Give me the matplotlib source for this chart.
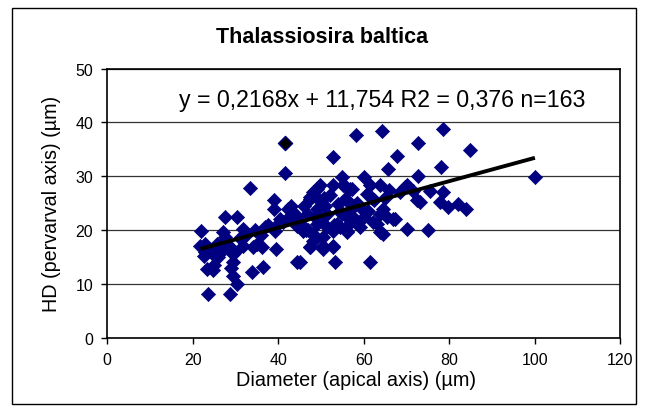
import matplotlib
matplotlib.use("Agg")
import matplotlib.pyplot as plt
from matplotlib.patches import Rectangle

plt.rcParams['font.family'] = ['Liberation Sans', 'DejaVu Sans']

# apical diameter (um) and pervalvar axis (um)
diameter = [
    22.0, 21.8, 22.6, 23.3, 24.8, 23.6, 24.2, 25.6, 24.5, 27.2,
    27.6, 27.6, 30.4, 27.2, 28.7, 29.5, 29.5, 29.5, 30.3, 28.7,
    31.8, 31.8, 33.3, 34.2, 33.8, 36.1, 36.5, 35.0, 38.9, 38.9,
    39.6, 39.3, 39.6, 41.2, 41.7, 42.4, 43.5, 44.3, 44.3, 26.0,
    22.8, 25.0, 28.0, 30.0, 45.1, 47.4, 52.9, 53.3, 61.4, 49.8,
    48.2, 47.4, 49.4, 52.9, 55.2, 56.8, 61.4, 63.8, 70.0, 56.0,
    60.7, 72.4, 58.2, 64.3, 52.9, 67.7, 72.6, 65.7, 54.8, 60.1,
    72.7, 70.0, 64.6, 63.0, 65.4, 67.3, 63.8, 45.9, 48.2, 50.5,
    52.9, 56.0, 57.5, 56.0, 53.7, 49.0, 51.3, 46.7, 54.4, 50.5,
    48.2, 43.5, 45.1, 47.4, 49.0, 58.0, 56.0, 56.0, 64.6, 66.9,
    62.2, 63.8, 47.4, 50.5, 52.9, 55.6, 69.6, 71.6, 73.1, 55.8,
    57.2, 78.4, 84.8, 78.0, 75.5, 78.4, 77.8, 79.8, 82.1, 83.9,
    75.1, 100.0, 51.0, 54.0, 50.0, 46.0, 58.5, 59.5, 61.0, 62.5,
    48.5, 51.5, 53.0, 55.0, 57.0, 44.5, 46.5, 40.5, 37.5, 26.5,
    23.0, 66.0, 68.5, 60.0, 59.0, 65.0, 49.0, 52.0, 54.5, 57.8,
    42.0, 43.0, 32.5, 34.5, 37.0, 25.5, 29.0, 31.0, 47.0, 50.8,
    53.8, 36.0, 62.0,
]
hd = [
    19.8, 17.0, 15.2, 12.8, 12.5, 8.1, 16.3, 17.5, 15.8, 19.6,
    18.7, 22.4, 22.4, 16.3, 16.8, 15.6, 14.0, 11.5, 10.0, 8.1,
    20.2, 17.1, 27.9, 16.8, 12.2, 16.8, 13.1, 17.4, 25.6, 23.9,
    20.8, 19.9, 16.5, 21.5, 30.6, 23.9, 22.1, 20.8, 14.0, 15.0,
    16.0, 13.5, 17.5, 16.0, 14.0, 16.8, 16.8, 14.0, 14.0, 28.3,
    27.0, 26.1, 25.8, 28.3, 28.3, 27.6, 28.3, 28.3, 28.3, 25.5,
    26.7, 25.5, 37.7, 38.5, 33.5, 33.7, 36.2, 31.4, 29.9, 29.9,
    30.1, 20.2, 19.3, 21.2, 22.4, 22.1, 23.0, 19.9, 19.3, 18.7,
    19.9, 19.9, 21.8, 22.4, 21.2, 21.2, 23.0, 23.0, 23.6, 16.5,
    18.0, 23.3, 21.4, 25.8, 27.7, 22.1, 20.8, 19.6, 23.9, 22.1,
    21.5, 19.6, 16.8, 17.1, 17.1, 25.8, 28.0, 27.3, 25.2, 28.0,
    27.7, 38.8, 34.8, 31.7, 27.3, 27.0, 25.2, 24.3, 24.9, 23.9,
    20.1, 29.8, 24.5, 24.8, 22.0, 24.5, 25.0, 24.0, 23.5, 25.5,
    22.5, 20.5, 21.0, 23.0, 24.0, 22.5, 20.0, 22.0, 21.0, 17.0,
    17.5, 27.5, 27.0, 22.5, 20.5, 26.0, 24.0, 26.5, 20.5, 24.5,
    22.0, 24.5, 19.0, 20.0, 20.5, 15.0, 13.0, 18.5, 20.0, 26.0,
    21.0, 19.0, 26.0,
]
highlight = (41.7, 36.2)

slope = 0.2168
intercept = 11.754
r2 = 0.376
n = 163

fig = plt.figure(figsize=(6.45, 4.1), dpi=100)
fig.patches.append(Rectangle((0.019, 0.012), 0.967, 0.966, transform=fig.transFigure,
                             fill=False, edgecolor='black', linewidth=1.0))
ax = fig.add_axes([0.166, 0.174, 0.796, 0.656])

ax.scatter(diameter, hd, marker='D', s=52, color='#000080', edgecolors='#000080',
           linewidths=0.5, zorder=3)
ax.scatter([highlight[0]], [highlight[1]], marker='D', s=52, color='black',
           edgecolors='#000080', linewidths=1.0, zorder=4)

xfit = [min(diameter), max(diameter)]
yfit = [slope * v + intercept for v in xfit]
ax.plot(xfit, yfit, color='black', linewidth=2.8, zorder=5, solid_capstyle='butt')

ax.set_xlim(0, 120)
ax.set_ylim(0, 50)
ax.set_xticks(range(0, 121, 20))
ax.set_yticks(range(0, 51, 10))
ax.yaxis.grid(True, color='#333333', linewidth=0.9)
ax.set_axisbelow(True)
for sp in ax.spines.values():
    sp.set_linewidth(1.2)
    sp.set_color('black')
ax.tick_params(direction='out', length=4, width=1, labelsize=11.5, pad=6)

ax.set_xlabel('Diameter (apical axis) (µm)', fontsize=14.3, labelpad=3)
ax.xaxis.set_label_coords(0.485, -0.122)
ax.set_ylabel('HD (pervarval axis) (µm)', fontsize=14.2, labelpad=10)
fig.text(0.5, 0.908, 'Thalassiosira baltica', ha='center', va='center',
         fontsize=15.5, fontweight='bold')
ax.text(0.536, 0.885, f'y = 0,2168x + 11,754 R2 = 0,376 n={n}', transform=ax.transAxes,
        ha='center', va='center', fontsize=16.7)

fig.savefig('out.png', dpi=100)
